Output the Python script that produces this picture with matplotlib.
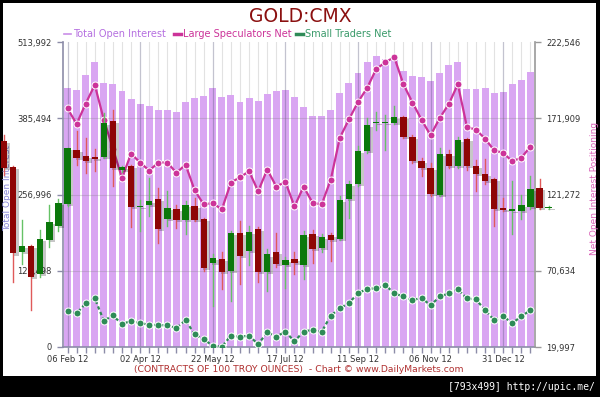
import matplotlib
matplotlib.use("Agg")
import matplotlib.pyplot as plt
from matplotlib.patches import Rectangle
from matplotlib.lines import Line2D

# weekly COT data, Feb 2012 - Jan 2013
tick_labels = ['06 Feb 12', '02 Apr 12', '22 May 12', '17 Jul 12',
               '11 Sep 12', '06 Nov 12', '31 Dec 12']
tick_every = 8

open_interest = [437200, 433400, 458600, 480900, 444600, 443400, 432200, 418200, 409300, 405300,
                 399800, 399800, 396400, 413200, 419100, 423300, 437200, 421300, 425000, 413500,
                 419600, 415200, 426300, 431200, 433400, 421900, 405100, 389700, 389700, 399800,
                 427800, 445600, 462400, 480400, 490500, 484600, 487100, 464400, 456900, 455700,
                 448500, 461400, 475400, 480900, 435500, 434700, 436700, 427800, 429500, 442900,
                 449800, 463100]

large_spec = [178390, 168060, 181630, 194080, 170910, 151720, 132190, 148410, 142450, 137150,
              142450, 142450, 135630, 141120, 124110, 114650, 115510, 111340, 129210, 132720,
              136690, 123450, 137820, 126560, 129670, 113320, 126430, 115770, 114650, 131200,
              159000, 171110, 182690, 191960, 204470, 209100, 212410, 194540, 182360, 170910,
              160520, 172040, 181300, 194540, 166080, 164290, 158330, 150590, 148870, 143310,
              145760, 153040]

small_traders = [44020, 42300, 48920, 52300, 37410, 40980, 35090, 37410, 35880, 34760,
                 34560, 34360, 32570, 37870, 28400, 25090, 20860, 20200, 27480, 26820,
                 27480, 21850, 29730, 26950, 30120, 23770, 30260, 31380, 30120, 40850,
                 45610, 49320, 55540, 58720, 58850, 61230, 55540, 53560, 51110, 52630,
                 47600, 53560, 55540, 58390, 52230, 51570, 44490, 37870, 40320, 35880,
                 40320, 44490]

# gold price candles (overlay starts 7 weeks before the first bar)
candle_start = -7
c_open = [1705, 1654, 1486, 1499, 1443, 1510, 1538,
          1582, 1687, 1675, 1673, 1673, 1744, 1648, 1657, 1575, 1580,
          1592, 1551, 1572, 1549, 1578, 1551, 1465, 1473, 1450, 1525,
          1489, 1532, 1447, 1486, 1462, 1474, 1461, 1522, 1494, 1520,
          1512, 1592, 1620, 1685, 1740, 1741, 1741, 1752, 1714, 1666,
          1652, 1599, 1680, 1656, 1710, 1656, 1641, 1630, 1573, 1568,
          1567, 1575, 1613, 1573]
c_high = [1718, 1657, 1550, 1501, 1531, 1579, 1592,
          1692, 1724, 1712, 1690, 1760, 1767, 1657, 1659, 1590, 1633,
          1612, 1607, 1580, 1587, 1594, 1553, 1482, 1486, 1528, 1548,
          1538, 1537, 1492, 1525, 1477, 1486, 1528, 1531, 1522, 1525,
          1597, 1626, 1695, 1750, 1762, 1756, 1775, 1754, 1718, 1672,
          1662, 1692, 1688, 1714, 1711, 1667, 1669, 1633, 1594, 1626,
          1600, 1636, 1630, 1578]
c_low = [1639, 1427, 1463, 1373, 1437, 1496, 1528,
         1577, 1659, 1643, 1646, 1671, 1616, 1645, 1536, 1528, 1558,
         1505, 1538, 1535, 1523, 1547, 1450, 1380, 1414, 1390, 1424,
         1461, 1427, 1410, 1457, 1417, 1443, 1433, 1466, 1486, 1469,
         1510, 1554, 1617, 1682, 1726, 1688, 1739, 1711, 1662, 1637,
         1597, 1597, 1652, 1652, 1649, 1607, 1620, 1538, 1567, 1522,
         1551, 1571, 1571, 1571]
c_close = [1652, 1484, 1498, 1437, 1512, 1545, 1584,
           1692, 1672, 1665, 1669, 1741, 1652, 1655, 1575, 1578, 1588,
           1533, 1573, 1550, 1580, 1549, 1456, 1476, 1447, 1524, 1479,
           1527, 1447, 1482, 1463, 1471, 1465, 1520, 1492, 1517, 1510,
           1590, 1621, 1686, 1737, 1742, 1743, 1752, 1714, 1665, 1652,
           1601, 1679, 1656, 1708, 1656, 1641, 1626, 1572, 1570, 1570,
           1579, 1611, 1574, 1575]

left_ticks = [0, 128498, 256996, 385494, 513992]
right_ticks = [19997, 70634, 121272, 171909, 222546]

BAR = '#d9a6f2'
MAG = '#cc3399'
GRN = '#2e8b57'
AXC = '#8c8ca8'

fig = plt.figure(figsize=(6, 3.97), dpi=100, facecolor='black')
fig.patches.append(Rectangle((3 / 600, 1 - 376 / 397), 593 / 600, 373 / 397,
                             transform=fig.transFigure, facecolor='white',
                             edgecolor='none', zorder=-10))

ax = fig.add_axes([63 / 600, 1 - 347 / 397, 472 / 600, 305 / 397])
ax.patch.set_visible(False)
n = len(open_interest)
x = list(range(n))

ax.bar(x, open_interest, width=0.77, color=BAR, zorder=1)
ax.set_xlim(-0.5, n - 0.5)
ax.set_ylim(0, 513992)
ax.set_yticks(left_ticks)
ax.set_yticklabels([f'{v:,}' for v in left_ticks])
ax.set_xticks(list(range(0, n, tick_every)))
ax.set_xticklabels(tick_labels)
ax.set_xticks(x, minor=True)
ax.set_axisbelow(True)
ax.grid(which='minor', axis='x', color='#e2e2e2', lw=0.8)
for v in range(0, n, tick_every):
    ax.axvline(v, color='#555577', lw=0.9, alpha=0.35, zorder=2)
for v in left_ticks[1:-1]:
    ax.axhline(v, color='#777777', lw=0.8, alpha=0.25, zorder=2)

for s in ['top', 'right']:
    ax.spines[s].set_visible(False)
for s in ['left', 'bottom']:
    ax.spines[s].set_color(AXC)
    ax.spines[s].set_linewidth(1.2)
ax.tick_params(axis='both', which='both', colors=AXC, labelcolor='#333333',
               labelsize=6, length=4, width=1)
ax.tick_params(axis='y', pad=4)
ax.tick_params(axis='x', pad=2)
ax.set_ylabel('Total Open Interest', color='#8585d6', fontsize=6.5)
ax.yaxis.set_label_coords(-0.108, 0.52)

# net positioning lines
ax2 = ax.twinx()
ax2.set_ylim(19997, 222546)
ax2.set_yticks(right_ticks)
ax2.set_yticklabels([f'{v:,}' for v in right_ticks])
ax2.plot(x, large_spec, color=MAG, lw=1.6, marker='o', ms=5,
         mfc=MAG, mec='white', mew=0.7, zorder=3)
ax2.plot(x, small_traders, color=GRN, lw=1.6, ls=(0, (1.5, 1.2)), marker='o', ms=5,
         mfc=GRN, mec='white', mew=0.7, zorder=3)
for s in ['top', 'left', 'bottom']:
    ax2.spines[s].set_visible(False)
ax2.spines['right'].set_color('#999999')
ax2.spines['right'].set_linewidth(1.2)
ax2.tick_params(axis='y', colors='#999999', labelcolor='#333333',
                labelsize=6, length=4, width=1, pad=4)
ax2.set_ylabel('Net Open Interest Positioning', color='#d963b8', fontsize=6.5)
ax2.yaxis.set_label_coords(1.117, 0.52)

# candles on top
ax3 = ax.twinx()
ax3.set_ylim(1300, 1900)
ax3.axis('off')
for i in range(len(c_open)):
    cx = candle_start + i
    o, h, l, c = c_open[i], c_high[i], c_low[i], c_close[i]
    up = c >= o
    body_c = '#0b780b' if up else '#8e0505'
    wick_c = '#66c266' if up else '#e05a5a'
    lo_b, hi_b = min(o, c), max(o, c)
    hgt = max(hi_b - lo_b, 2.5)
    ax3.add_patch(Rectangle((cx - 0.35 + 0.3, lo_b - 4), 0.7, hgt, facecolor='black',
                            alpha=0.22, edgecolor='none', clip_on=False, zorder=4))
    ax3.plot([cx, cx], [l, h], color=wick_c, lw=1, clip_on=False, zorder=5)
    ax3.add_patch(Rectangle((cx - 0.35, lo_b), 0.7, hgt, facecolor=body_c,
                            edgecolor='none', clip_on=False, zorder=6))

# title and legend
fig.text(0.5, 1 - 16 / 397, 'GOLD:CMX', ha='center', va='center',
         color='#8b1010', fontsize=13.5)
leg_y = 1 - 34 / 397
legend_items = [('Total Open Interest', '#c98de8', 64, 1.2, '#b56fe0'),
                ('Large Speculators Net', MAG, 174, 2.5, MAG),
                ('Small Traders Net', GRN, 296, 2.5, '#3a9a6a')]
for label, lc, px, lw, tc in legend_items:
    fig.add_artist(Line2D([px / 600, (px + 7) / 600], [leg_y, leg_y], color=lc, lw=lw,
                          transform=fig.transFigure))
    fig.text((px + 9) / 600, leg_y, label, ha='left', va='center', color=tc, fontsize=7)

fig.text(299 / 600, 1 - 370 / 397,
         '(CONTRACTS OF 100 TROY OUNCES)  - Chart \u00a9 www.DailyMarkets.com',
         ha='center', va='center', color='#b03030', fontsize=6.7)
fig.text(595 / 600, 1 - 387 / 397, '[793x499] http://upic.me/', ha='right', va='center',
         color='white', fontsize=7, family='DejaVu Sans Mono')

fig.savefig('out.png', dpi=100, facecolor='black')
